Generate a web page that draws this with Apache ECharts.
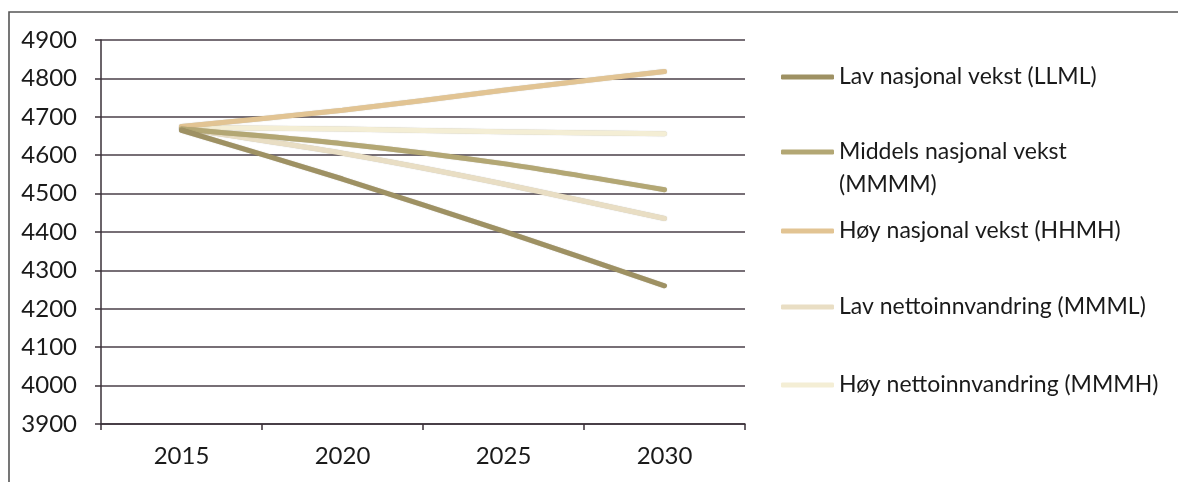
<!DOCTYPE html>
<html>
<head>
<meta charset="utf-8">
<script src="https://cdn.jsdelivr.net/npm/echarts@6/dist/echarts.min.js"></script>
<style>html,body{margin:0;padding:0;background:#fff}#c{width:1178px;height:482px}</style>
</head>
<body>
<div id="c"></div>
<script>
const years = ['2015', '2020', '2025', '2030'];
const seriesNames = [
  'Lav nasjonal vekst (LLML)',
  'Middels nasjonal vekst (MMMM)',
  'Høy nasjonal vekst (HHMH)',
  'Lav nettoinnvandring (MMML)',
  'Høy nettoinnvandring (MMMH)'
];
const llml = [4665, 4538, 4402, 4260];
const mmmm = [4668, 4630, 4578, 4510];
const hhmh = [4675, 4717, 4769, 4818];
const mmml = [4670, 4605, 4525, 4435];
const mmmh = [4672, 4668, 4661, 4656];
const yTicks = [3900, 4000, 4100, 4200, 4300, 4400, 4500, 4600, 4700, 4800, 4900];

const colors = ['#9e9163', '#b3a774', '#e2c493', '#e9dec4', '#f4eed5'];
const values = [llml, mmmm, hhmh, mmml, mmmh];
const font = 'Lato, "Liberation Sans", sans-serif';

const legendTops = [77, 152, 231, 307, 385];
const legends = seriesNames.map((n, i) => {
  const two = i === 1;
  return {
    data: [n],
    orient: 'vertical',
    left: 781,
    top: two ? legendTops[i] - 49.5 : legendTops[i] - 13,
    padding: 0,
    itemWidth: 53,
    itemHeight: 5,
    icon: 'roundRect',
    selectedMode: false,
    formatter: two ? ' \nMiddels nasjonal vekst\n(MMMM)' : '{name}',
    textStyle: {
      fontFamily: font, fontSize: 23, color: '#1a1a1a',
      lineHeight: two ? 33 : 26
    }
  };
});

const chart = echarts.init(document.getElementById('c'), null, {renderer: 'canvas'});
chart.setOption({
  animation: false,
  backgroundColor: '#fff',
  grid: {left: 101, right: 433, top: 40, bottom: 58},
  legend: legends,
  graphic: [{
    type: 'polyline',
    shape: {points: [[9, 482], [9, 12], [1178, 12]]},
    style: {stroke: '#555', lineWidth: 1.6, fill: null}
  }],
  xAxis: {
    type: 'category',
    data: years,
    boundaryGap: true,
    axisLine: {show: true, lineStyle: {color: '#3a3038', width: 1.5}},
    axisTick: {show: true, length: 6, lineStyle: {color: '#3a3038', width: 1.5}},
    axisLabel: {fontFamily: font, fontSize: 24, color: '#1a1a1a', margin: 20}
  },
  yAxis: {
    type: 'value',
    min: yTicks[0],
    max: yTicks[yTicks.length - 1],
    interval: 100,
    axisLine: {show: true, lineStyle: {color: '#3a3038', width: 1.5}},
    axisTick: {show: true, length: 6, lineStyle: {color: '#3a3038', width: 1.5}},
    splitLine: {show: true, lineStyle: {color: '#4a3f48', width: 1.5}},
    axisLabel: {fontFamily: font, fontSize: 24, color: '#1a1a1a', margin: 24,
      formatter: v => String(v)}
  },
  series: seriesNames.map((n, i) => ({
    name: n,
    type: 'line',
    data: values[i],
    smooth: 0.25,
    showSymbol: false,
    symbol: 'none',
    color: colors[i],
    z: 10 - i,
    lineStyle: {width: 5, color: colors[i], cap: 'round',
      shadowColor: 'rgba(90,80,50,0.35)', shadowBlur: 1},
    itemStyle: {color: colors[i]}
  }))
});
</script>
</body>
</html>
